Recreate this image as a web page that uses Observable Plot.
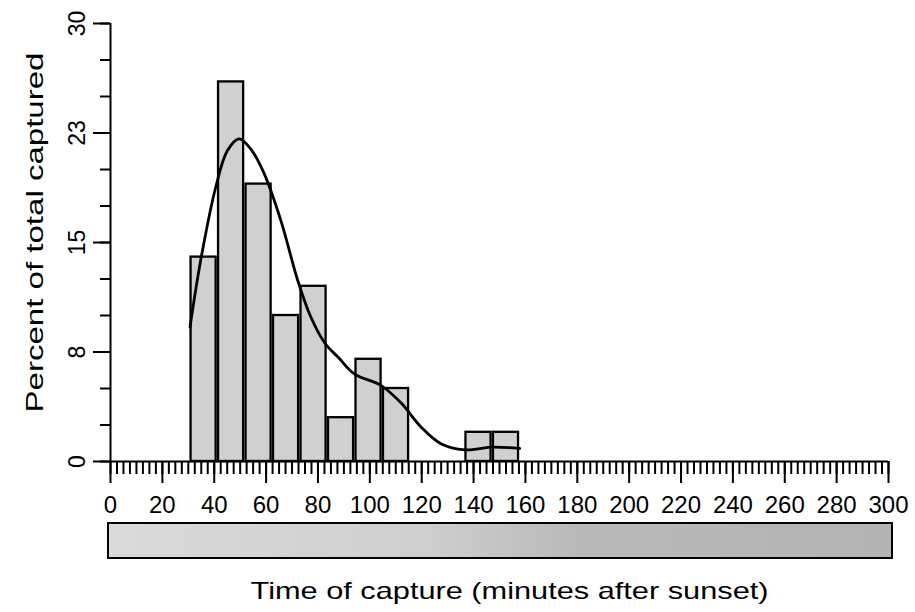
<!DOCTYPE html>
<html><head><meta charset="utf-8">
<script src="https://cdn.jsdelivr.net/npm/d3@7"></script>
<script src="https://cdn.jsdelivr.net/npm/@observablehq/plot@0.6"></script>
<style>body{margin:0;background:#fff}</style>
</head><body><div id="chart"></div>
<script>
// Histogram bins (minutes after sunset) and percent of total captured
const binLo = [30.6, 41.2, 51.8, 62.4, 73.0, 83.6, 94.2, 104.8, 136.6, 147.2];
const binHi = [41.2, 51.8, 62.4, 73.0, 83.6, 94.2, 104.8, 115.4, 147.2, 157.8];
const percent = [14, 26, 19, 10, 12, 3, 7, 5, 2, 2];

// Smoothed density curve
const curveX = [30.65, 34.8, 40.6, 45.1, 49.6, 54.1, 59.3, 65.7, 72.2, 77.0, 82.7, 88.0, 94.0, 104.4, 112.1, 119.8, 127.6, 136.6, 141.7, 147.1, 157.8];
const curveY = [9.2, 13.8, 18.8, 21.3, 22.1, 21.4, 19.7, 16.5, 12.4, 10.0, 8.1, 7.1, 6.0, 5.2, 4.0, 2.35, 1.2, 0.8, 0.87, 0.98, 0.9];

// Axes
const xTicks = [0, 20, 40, 60, 80, 100, 120, 140, 160, 180, 200, 220, 240, 260, 280, 300];
const yTicks = [0, 7.5, 15, 22.5, 30];
const yTickLabels = ["0", "8", "15", "23", "30"];
const xTitle = "Time of capture (minutes after sunset)";
const yTitle = "Percent of total captured";

const bars = percent.map((p, i) => ({x1: binLo[i], x2: binHi[i], y: p}));
const curve = curveX.map((x, i) => ({x, y: curveY[i]}));
const font = "'Liberation Sans', Arial, Helvetica, sans-serif";

const plot = Plot.plot({
  width: 915, height: 612,
  marginLeft: 110, marginRight: 27, marginTop: 23, marginBottom: 151,
  x: {domain: [0, 300]},
  y: {domain: [0, 30]},
  style: {fontFamily: font, background: "white", color: "black", overflow: "visible"},
  marks: [
    Plot.rectY(bars, {x1: "x1", x2: "x2", y: "y", fill: "#d0d0d0", stroke: "black", strokeWidth: 2.3, insetLeft: 1.2, insetRight: 1.2}),
    Plot.line(curve, {x: "x", y: "y", curve: "catmull-rom", stroke: "black", strokeWidth: 2.8}),
    Plot.ruleY([0], {stroke: "black", strokeWidth: 2}),
    Plot.ruleX([0], {stroke: "black", strokeWidth: 2}),
    Plot.axisX(d3.range(0, 300.01, 2.5), {tickSize: 13, tickFormat: () => "", label: null, strokeWidth: 2}),
    Plot.axisX(xTicks, {tickSize: 22, tickFormat: () => "", label: null, strokeWidth: 2}),
    Plot.text(xTicks, {x: d => d, text: d => String(d), frameAnchor: "bottom", lineAnchor: "top", dy: 34, fontSize: 24, fill: "black"}),
    Plot.axisY(d3.range(0, 30.01, 2.5), {tickSize: 10, tickFormat: () => "", label: null, strokeWidth: 2}),
    Plot.axisY(yTicks, {tickSize: 17, tickFormat: () => "", label: null, strokeWidth: 2}),
    Plot.text(yTicks, {y: d => d, text: (d, i) => yTickLabels[i], frameAnchor: "left", dx: -33, rotate: -90, fontSize: 23, textAnchor: "middle", fill: "black"}),
    Plot.text([xTitle], {frameAnchor: "bottom", dx: 10, dy: 137, fontSize: 24, fill: "black", className: "xtitle"}),
    Plot.text([yTitle], {frameAnchor: "left", dx: -75, dy: -10, rotate: -90, fontSize: 24, fill: "black", className: "ytitle"})
  ]
});

document.getElementById("chart").appendChild(plot);

// stretch the titles like the scanned original, anchored explicitly
d3.select(plot).select("g.xtitle text").attr("text-anchor", "middle").attr("textLength", 518).attr("lengthAdjust", "spacingAndGlyphs");
d3.select(plot).select("g.ytitle text").attr("text-anchor", "start").attr("x", -180).attr("textLength", 360).attr("lengthAdjust", "spacingAndGlyphs");

// grey strip below the axis, spanning the x scale
const xs = plot.scale("x"), ys = plot.scale("y");
const svg = d3.select(plot);
const defs = svg.append("defs");
const g = defs.append("linearGradient").attr("id", "stripGrad").attr("x1", "0").attr("x2", "1").attr("y1", "0").attr("y2", "0");
[["0", "#dadada"], ["0.4", "#cfcfcf"], ["0.6", "#b9b9b9"], ["1", "#b3b3b3"]].forEach(([o, c]) => g.append("stop").attr("offset", o).attr("stop-color", c));
const x0 = xs.apply(0) - 2, x1 = xs.apply(300) + 4, base = ys.apply(0);
svg.append("rect").attr("x", x0).attr("y", base + 62).attr("width", x1 - x0).attr("height", 35)
  .attr("fill", "url(#stripGrad)").attr("stroke", "black").attr("stroke-width", 2);
</script>
</body></html>
